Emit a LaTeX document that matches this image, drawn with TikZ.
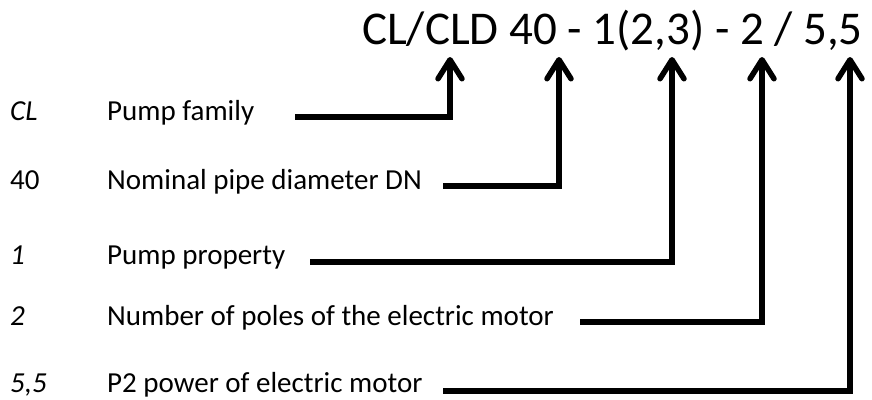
\documentclass[tikz,border=0pt]{standalone}
\usepackage{fontspec}
\setmainfont{Carlito}
\usetikzlibrary{arrows.meta}
\begin{document}
\begin{tikzpicture}[x=1pt,y=-1pt,
  lbl/.style={anchor=base west, inner sep=0pt, font=\fontsize{29}{34}\selectfont},
  conn/.style={line width=5.5pt, -{Straight Barb[length=19pt,width=24pt,round]}}]
\useasboundingbox (0,0) rectangle (872,399);
\node[anchor=base west, inner sep=0pt, font=\fontsize{47}{56}\selectfont] (title) at (362,44) {CL/CLD 40 - 1(2,3) - 2 / 5,5};
% codes
\node[lbl] (k1) at (10,120) {\itshape CL};
\node[lbl] (k2) at (10,189) {40};
\node[lbl] (k3) at (10,264) {\itshape 1};
\node[lbl] (k4) at (10,325) {\itshape 2};
\node[lbl] (k5) at (10,392) {\itshape 5,5};
% descriptions
\node[lbl] (d1) at (107,120) {Pump family};
\node[lbl] (d2) at (107,189) {Nominal pipe diameter DN};
\node[lbl] (d3) at (107,264) {Pump property};
\node[lbl] (d4) at (107,325) {Number of poles of the electric motor};
\node[lbl] (d5) at (107,392) {P2 power of electric motor};
% start and tip points
\coordinate (s1) at (295,117); \coordinate (t1) at (450,57);
\coordinate (s2) at (443,186); \coordinate (t2) at (559,57);
\coordinate (s3) at (310,262); \coordinate (t3) at (672,57);
\coordinate (s4) at (580,322); \coordinate (t4) at (762,57);
\coordinate (s5) at (443,391); \coordinate (t5) at (850,57);
\draw[conn] (s1) -| (t1);
\draw[conn] (s2) -| (t2);
\draw[conn] (s3) -| (t3);
\draw[conn] (s4) -| (t4);
\draw[conn] (s5) -| (t5);
\end{tikzpicture}
\end{document}
